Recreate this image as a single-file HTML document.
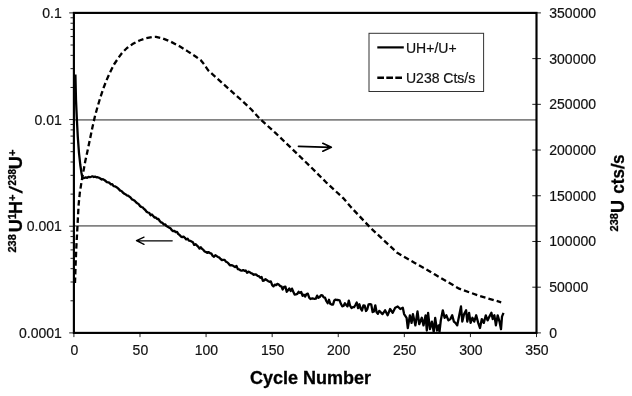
<!DOCTYPE html>
<html><head><meta charset="utf-8"><title>Chart</title>
<style>
html,body{margin:0;padding:0;background:#fff;}
svg{display:block;}
text{font-family:"Liberation Sans",Arial,Helvetica,sans-serif;fill:#111;stroke:#111;stroke-width:0.2px;}
.b text, text.b{fill:#000;stroke:#000;stroke-width:0.3px;font-weight:bold;}
</style></head>
<body>
<svg width="632" height="396" viewBox="0 0 632 396">
<rect width="632" height="396" fill="#fff"/>
<g stroke="#828282" stroke-width="1.7">
<line x1="74" y1="119.95" x2="536.5" y2="119.95"/>
<line x1="74" y1="225.85" x2="536.5" y2="225.85"/>
</g>
<g stroke="#222" stroke-width="1" shape-rendering="auto">
<line x1="69.2" y1="12.90" x2="74" y2="12.90"/>
<line x1="70.5" y1="87.46" x2="74" y2="87.46"/>
<line x1="70.5" y1="68.67" x2="74" y2="68.67"/>
<line x1="70.5" y1="55.35" x2="74" y2="55.35"/>
<line x1="70.5" y1="45.01" x2="74" y2="45.01"/>
<line x1="70.5" y1="36.56" x2="74" y2="36.56"/>
<line x1="70.5" y1="29.42" x2="74" y2="29.42"/>
<line x1="70.5" y1="23.24" x2="74" y2="23.24"/>
<line x1="70.5" y1="17.78" x2="74" y2="17.78"/>
<line x1="69.2" y1="119.57" x2="74" y2="119.57"/>
<line x1="70.5" y1="194.12" x2="74" y2="194.12"/>
<line x1="70.5" y1="175.34" x2="74" y2="175.34"/>
<line x1="70.5" y1="162.01" x2="74" y2="162.01"/>
<line x1="70.5" y1="151.68" x2="74" y2="151.68"/>
<line x1="70.5" y1="143.23" x2="74" y2="143.23"/>
<line x1="70.5" y1="136.09" x2="74" y2="136.09"/>
<line x1="70.5" y1="129.90" x2="74" y2="129.90"/>
<line x1="70.5" y1="124.45" x2="74" y2="124.45"/>
<line x1="69.2" y1="226.23" x2="74" y2="226.23"/>
<line x1="70.5" y1="300.79" x2="74" y2="300.79"/>
<line x1="70.5" y1="282.01" x2="74" y2="282.01"/>
<line x1="70.5" y1="268.68" x2="74" y2="268.68"/>
<line x1="70.5" y1="258.34" x2="74" y2="258.34"/>
<line x1="70.5" y1="249.90" x2="74" y2="249.90"/>
<line x1="70.5" y1="242.76" x2="74" y2="242.76"/>
<line x1="70.5" y1="236.57" x2="74" y2="236.57"/>
<line x1="70.5" y1="231.11" x2="74" y2="231.11"/>
<line x1="69.2" y1="332.90" x2="74" y2="332.90"/>
<line x1="73.90" y1="333" x2="73.90" y2="337.1"/>
<line x1="139.99" y1="333" x2="139.99" y2="337.1"/>
<line x1="206.07" y1="333" x2="206.07" y2="337.1"/>
<line x1="272.16" y1="333" x2="272.16" y2="337.1"/>
<line x1="338.24" y1="333" x2="338.24" y2="337.1"/>
<line x1="404.33" y1="333" x2="404.33" y2="337.1"/>
<line x1="470.41" y1="333" x2="470.41" y2="337.1"/>
<line x1="536.50" y1="333" x2="536.50" y2="337.1"/>
<line x1="532.3" y1="332.90" x2="540.9" y2="332.90"/>
<line x1="532.3" y1="287.19" x2="540.9" y2="287.19"/>
<line x1="532.3" y1="241.47" x2="540.9" y2="241.47"/>
<line x1="532.3" y1="195.76" x2="540.9" y2="195.76"/>
<line x1="532.3" y1="150.04" x2="540.9" y2="150.04"/>
<line x1="532.3" y1="104.33" x2="540.9" y2="104.33"/>
<line x1="532.3" y1="58.61" x2="540.9" y2="58.61"/>
<line x1="532.3" y1="12.90" x2="540.9" y2="12.90"/>
</g>
<path d="M75.0,283.0 L75.6,265.0 L76.3,248.0 L77.0,235.0 L77.8,220.0 L78.6,205.0 L79.8,193.0 L81.5,182.0 L83.3,172.0 L85.3,161.0 L87.5,151.0 L90.0,139.0 L92.5,127.0 L95.0,116.0 L97.5,107.0 L100.3,97.5 L103.5,88.0 L106.5,80.3 L110.0,72.5 L114.0,64.5 L118.0,58.5 L122.0,53.0 L127.0,48.0 L133.0,43.8 L139.5,40.5 L146.0,38.3 L152.0,37.0 L156.0,36.8 L162.0,38.2 L170.4,41.5 L180.0,46.5 L188.1,51.6 L196.0,56.8 L200.8,60.3 L203.5,63.6 L208.2,70.3 L214.0,75.6 L228.4,88.5 L241.3,100.0 L251.4,109.5 L259.5,118.5 L275.4,132.9 L291.3,148.1 L310.9,167.1 L326.1,182.3 L343.8,198.7 L350.2,206.3 L370.4,227.7 L397.2,252.8 L414.8,262.9 L425.6,269.0 L435.0,274.6 L459.2,288.7 L479.4,295.9 L501.2,302.3" fill="none" stroke="#000" stroke-width="2.3" stroke-dasharray="5.5 3.1" stroke-linejoin="round"/>
<path d="M75.4,74.5 L76.0,100.0 L76.8,118.0 L77.8,137.0 L79.0,153.0 L80.3,165.0 L81.5,173.0 L82.5,178.5 L84.5,177.9 L85.8,177.4 L87.1,177.8 L88.4,176.8 L89.8,177.2 L91.1,176.8 L92.4,176.3 L93.7,177.0 L95.0,176.6 L96.4,177.3 L97.7,177.2 L99.0,177.7 L100.3,178.5 L101.7,179.5 L103.0,179.2 L104.3,179.9 L105.6,181.0 L106.9,182.1 L108.3,182.4 L109.6,182.9 L110.9,184.4 L112.2,184.2 L113.6,186.1 L114.9,186.3 L116.2,187.0 L117.5,187.9 L118.8,189.1 L120.2,190.6 L121.5,191.0 L122.8,192.5 L124.1,193.6 L125.4,194.2 L126.8,195.3 L128.1,195.7 L129.4,196.6 L130.7,197.7 L132.1,199.4 L133.4,200.0 L134.7,200.8 L136.0,202.3 L137.3,203.2 L138.7,204.1 L140.0,206.0 L141.3,207.0 L142.6,207.3 L144.0,208.9 L145.3,210.0 L146.6,211.7 L147.9,212.5 L149.2,212.8 L150.6,215.2 L151.9,214.5 L153.2,216.0 L154.5,217.6 L155.8,217.4 L157.2,219.0 L158.5,219.0 L159.8,221.2 L161.1,222.4 L162.5,222.9 L163.8,224.5 L165.1,224.3 L166.4,226.0 L167.7,226.7 L169.1,227.6 L170.4,228.2 L171.7,230.0 L173.0,231.1 L174.4,230.9 L175.7,232.2 L177.0,231.8 L178.3,234.1 L179.6,234.9 L181.0,236.6 L182.3,237.1 L183.6,236.7 L184.9,237.8 L186.2,239.4 L187.6,238.7 L188.9,240.6 L190.2,240.8 L191.5,241.5 L192.9,242.3 L194.2,244.9 L195.5,244.2 L196.8,245.4 L198.1,246.6 L199.5,248.6 L200.8,247.3 L202.1,248.9 L203.4,249.9 L204.7,251.5 L206.1,252.1 L207.4,252.9 L208.7,252.1 L210.0,253.2 L211.4,253.7 L212.7,255.9 L214.0,256.8 L215.3,255.3 L216.6,256.1 L218.0,256.9 L219.3,257.6 L220.6,259.0 L221.9,260.0 L223.3,259.8 L224.6,259.8 L225.9,261.7 L227.2,262.2 L228.5,263.5 L229.9,265.3 L231.2,265.2 L232.5,265.3 L233.8,266.3 L235.1,267.1 L236.5,265.9 L237.8,269.1 L239.1,269.4 L240.4,270.3 L241.8,270.7 L243.1,270.1 L244.4,270.8 L245.7,270.5 L247.0,272.8 L248.4,271.6 L249.7,272.2 L251.0,273.2 L252.3,273.6 L253.7,274.8 L255.0,274.3 L256.3,274.7 L257.6,275.8 L258.9,276.2 L260.3,277.7 L261.6,277.0 L262.9,280.8 L264.2,280.4 L265.5,279.2 L266.9,280.2 L268.2,281.2 L269.5,281.8 L270.8,281.4 L272.2,285.1 L273.5,286.4 L274.8,284.6 L276.1,285.2 L277.4,283.9 L278.8,284.5 L280.1,286.1 L281.4,286.3 L282.7,289.5 L284.1,286.8 L285.4,286.6 L286.7,291.8 L288.0,290.2 L289.3,288.5 L290.7,291.0 L292.0,288.6 L293.3,291.8 L294.6,294.6 L295.9,294.4 L297.3,293.9 L298.6,291.8 L299.9,292.8 L301.2,292.0 L302.6,295.8 L303.9,294.7 L305.2,296.5 L306.5,294.0 L307.8,293.6 L309.2,297.6 L310.5,299.0 L311.8,298.5 L313.1,298.5 L314.5,298.9 L315.8,298.7 L317.1,295.6 L318.4,297.8 L319.7,297.0 L321.1,295.1 L322.4,295.3 L323.7,297.4 L325.0,297.6 L326.3,301.0 L327.7,303.2 L329.0,299.8 L330.3,303.8 L331.6,304.5 L333.0,304.6 L334.3,300.4 L335.6,299.6 L336.9,300.0 L338.2,300.0 L339.6,300.3 L340.9,303.8 L342.2,306.3 L343.5,306.0 L344.9,303.3 L346.2,305.0 L347.5,306.4 L348.8,300.6 L350.1,305.7 L351.5,308.0 L352.8,307.2 L354.1,307.1 L355.4,305.0 L356.7,302.5 L358.1,308.1 L359.4,304.3 L360.7,308.7 L362.0,310.5 L363.4,305.4 L364.7,305.7 L366.0,311.0 L367.3,309.3 L368.6,304.3 L370.0,304.1 L371.3,304.6 L372.6,312.1 L373.9,311.4 L375.3,305.3 L376.6,312.2 L377.9,313.9 L379.2,310.9 L380.0,311.5 L382.5,314.1 L385.1,310.3 L387.6,315.3 L390.1,309.0 L392.7,312.8 L395.2,307.7 L397.7,306.5 L400.3,309.0 L402.8,307.7 L404.1,314.1 L406.6,317.8 L407.8,328.0 L409.9,315.3 L411.6,322.9 L412.9,314.1 L415.4,325.4 L417.5,311.5 L419.2,324.2 L421.8,317.8 L423.5,325.4 L425.6,315.3 L426.8,330.5 L428.1,312.8 L429.9,329.2 L431.9,321.6 L433.7,331.8 L435.2,317.8 L437.0,330.5 L438.7,325.4 L439.5,331.8 L440.8,320.4 L442.8,310.3 L444.6,317.8 L446.3,315.3 L448.4,320.4 L450.4,319.1 L452.2,315.3 L453.9,321.6 L455.4,322.9 L457.2,325.4 L459.0,316.6 L461.0,306.5 L462.3,321.6 L464.1,314.1 L466.1,310.3 L467.3,321.6 L469.1,312.8 L470.6,322.9 L472.4,317.8 L474.2,321.6 L476.2,315.3 L478.2,322.9 L480.0,328.0 L481.8,319.1 L483.8,322.9 L485.8,315.3 L487.6,320.4 L489.4,316.6 L491.4,312.8 L492.7,319.1 L494.4,315.3 L495.9,325.4 L497.7,315.3 L499.5,321.6 L501.0,329.2 L502.0,316.6 L503.5,312.8" fill="none" stroke="#000" stroke-width="2.3" stroke-linejoin="round"/>
<g stroke="#000" stroke-width="2" fill="none">
<rect x="73.9" y="12.9" width="462.6" height="320" stroke-width="2.15"/>
</g>
<g stroke="#000" fill="none" stroke-linecap="round" stroke-linejoin="round">
<path stroke-width="1.7" d="M298.5,146.3 L330.8,147.3 M322.8,143.3 L331.3,147.3 L322.8,151.2"/>
<path stroke-width="1.35" d="M172.2,240.8 L137,240.6 M144,237.1 L136.5,240.6 L144,244.4"/>
</g>
<rect x="369" y="33.3" width="114.6" height="58.2" fill="#fff" stroke="#333" stroke-width="1"/>
<line x1="377.3" y1="47.4" x2="403.8" y2="47.4" stroke="#000" stroke-width="2.2"/>
<line x1="377.3" y1="77.7" x2="402.1" y2="77.7" stroke="#000" stroke-width="2.4" stroke-dasharray="6.7 2.3"/>
<g font-size="14">
<text x="406" y="52.5">UH+/U+</text>
<text x="406" y="82.5">U238 Cts/s</text>
</g>
<g font-size="14">
<text x="61.8" y="17.90" text-anchor="end">0.1</text>
<text x="61.8" y="124.57" text-anchor="end">0.01</text>
<text x="61.8" y="231.23" text-anchor="end">0.001</text>
<text x="61.8" y="337.90" text-anchor="end">0.0001</text>
<text x="74.30" y="354.9" text-anchor="middle">0</text>
<text x="140.39" y="354.9" text-anchor="middle">50</text>
<text x="206.47" y="354.9" text-anchor="middle">100</text>
<text x="272.56" y="354.9" text-anchor="middle">150</text>
<text x="338.64" y="354.9" text-anchor="middle">200</text>
<text x="404.73" y="354.9" text-anchor="middle">250</text>
<text x="470.81" y="354.9" text-anchor="middle">300</text>
<text x="536.90" y="354.9" text-anchor="middle">350</text>
<text x="549.3" y="337.90">0</text>
<text x="549.3" y="292.19">50000</text>
<text x="549.3" y="246.47">100000</text>
<text x="549.3" y="200.76">150000</text>
<text x="549.3" y="155.04">200000</text>
<text x="549.3" y="109.33">250000</text>
<text x="549.3" y="63.61">300000</text>
<text x="549.3" y="17.90">350000</text>
</g>
<text class="b" x="310.6" y="384" text-anchor="middle" font-size="18">Cycle Number</text>
<g class="b">
<text transform="translate(16.40,252.60) rotate(-90)" font-size="11">238</text>
<text transform="translate(21.70,232.30) rotate(-90)" font-size="18">U</text>
<text transform="translate(16.40,219.30) rotate(-90)" font-size="11">1</text>
<text transform="translate(21.70,213.90) rotate(-90)" font-size="18">H</text>
<text transform="translate(16.40,201.00) rotate(-90)" font-size="11">+</text>
<text transform="translate(21.70,193.60) rotate(-90) skewX(-13)" font-size="18">/</text>
<text transform="translate(16.40,185.40) rotate(-90) scale(0.89,1)" font-size="11">238</text>
<text transform="translate(21.70,169.25) rotate(-90)" font-size="18">U</text>
<text transform="translate(16.40,155.90) rotate(-90)" font-size="11">+</text>
<text transform="translate(618.30,231.40) rotate(-90)" font-size="11">238</text>
<text transform="translate(623.70,212.90) rotate(-90)" font-size="18">U</text>
<text transform="translate(623.70,193.70) rotate(-90) scale(0.95,1)" font-size="18">cts</text>
<text transform="translate(623.70,169.30) rotate(-90) skewX(-4)" font-size="18">/</text>
<text transform="translate(623.70,163.90) rotate(-90) scale(0.95,1)" font-size="18">s</text>
</g>
</svg>
</body></html>
